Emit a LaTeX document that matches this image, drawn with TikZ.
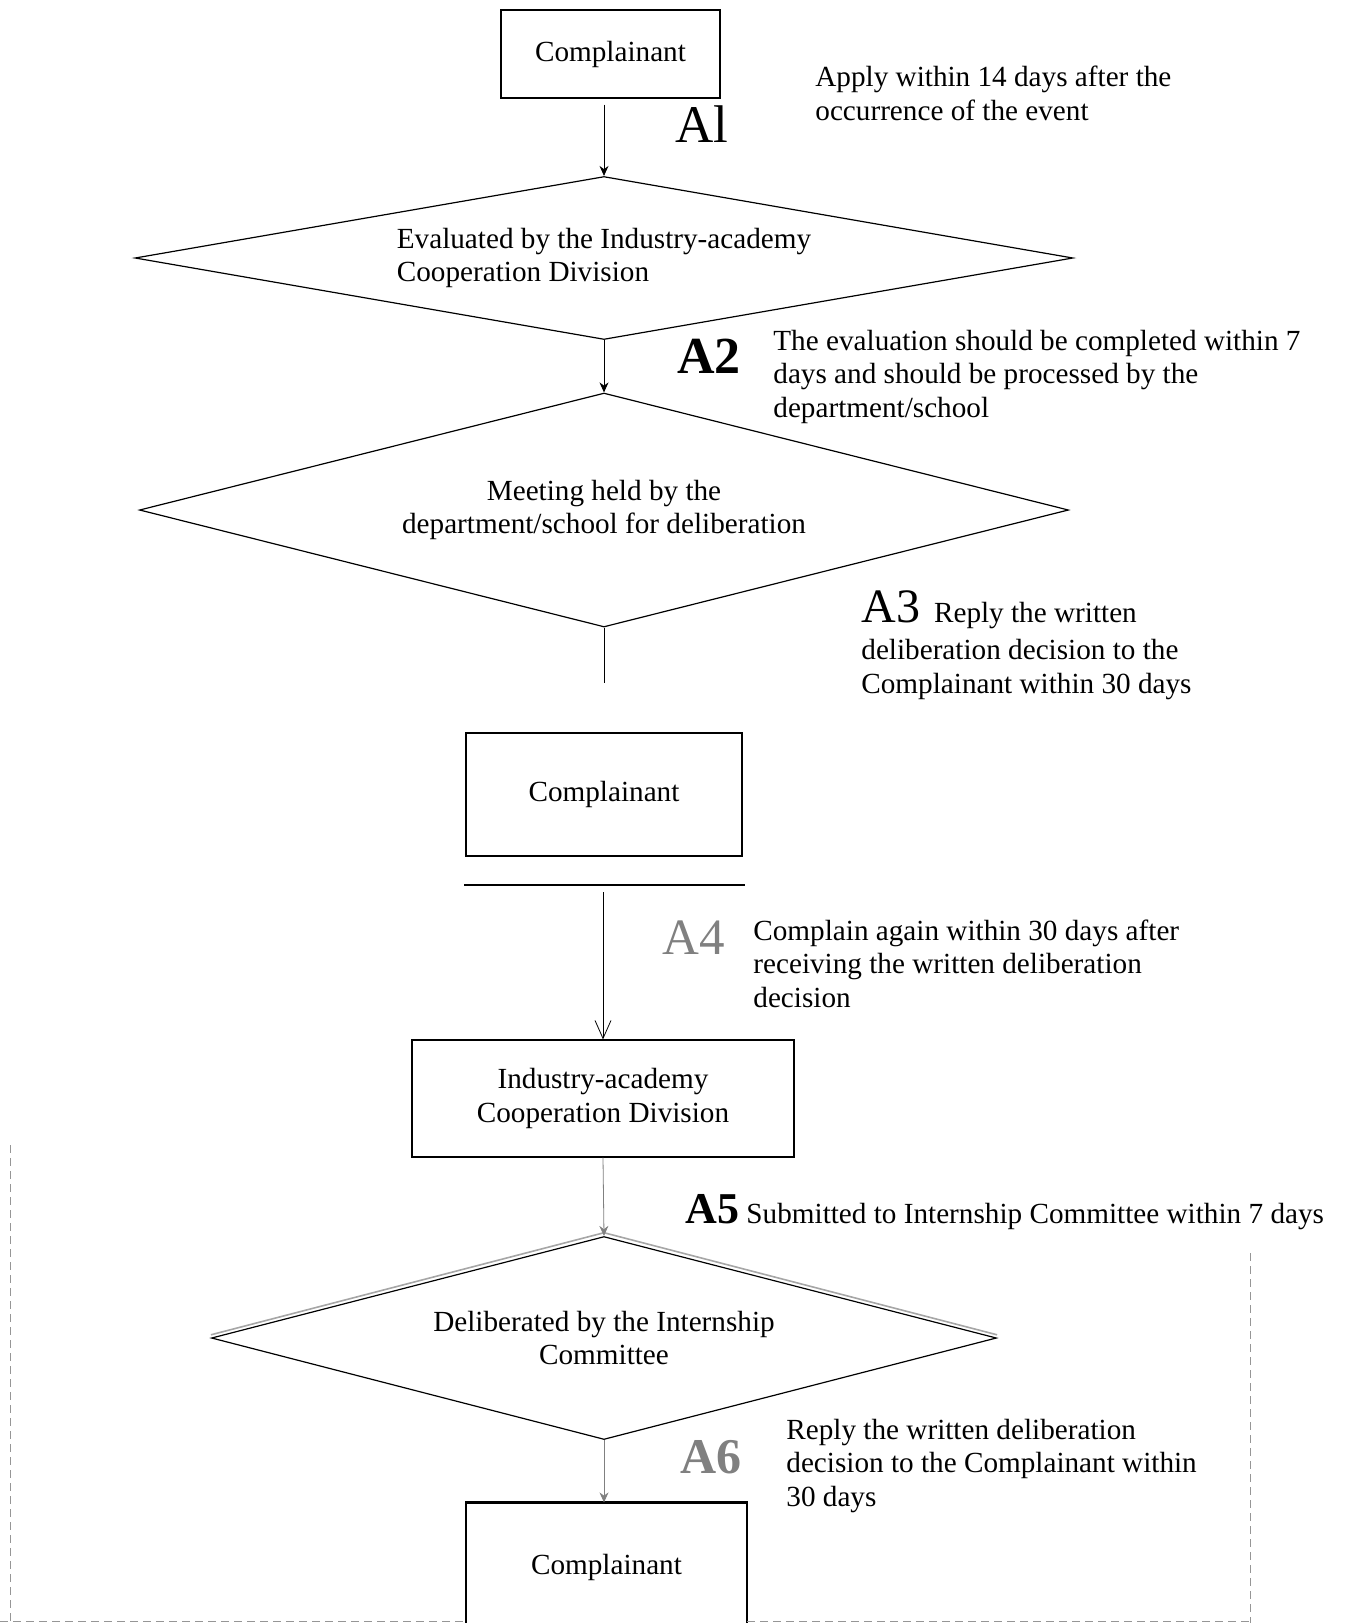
\documentclass[tikz,border=0pt]{standalone}
\usepackage{fontspec}
\setmainfont{Liberation Serif}
\usetikzlibrary{arrows.meta,positioning,shapes.geometric}
\definecolor{lblgray}{RGB}{128,128,128}
\definecolor{dashgray}{RGB}{150,150,150}
\tikzset{
  >={Stealth[length=5pt,width=4.5pt]},
  every node/.style={font=\fontsize{14.6}{16.6}\selectfont},
  box/.style ={draw, line width=0.6pt, inner sep=0pt},
  dec/.style ={draw, diamond, line width=0.6pt, inner sep=0pt, align=center},
  note/.style={anchor=base west, align=left, inner sep=0pt},
  big/.style ={anchor=base west, inner sep=0pt, font=\fontsize{#1}{#1}\selectfont},
  frame/.style={dashgray, line width=0.5pt, dash pattern=on 4pt off 2.5pt}
}
\begin{document}
\begin{tikzpicture}[x=0.5pt,y=-0.5pt]
\useasboundingbox (0,0) rectangle (1349,1623);
\clip (0,0) rectangle (1349,1623);

% main chain
\node[box, minimum width=109.5pt, minimum height=44pt] (c1) at (610.5,54) {Complainant};
\node[dec, aspect=5.75, minimum width=469pt, minimum height=81.5pt, align=left] (d1) at (604,258)
  {Evaluated by the Industry-academy\\Cooperation Division};
\node[dec, aspect=3.97, minimum width=464.5pt, minimum height=117pt] (d2) at (604,510)
  {Meeting held by the\\department/school for deliberation};
\coordinate (d2end) at (604,683);
\node[box, minimum width=138pt, minimum height=61.5pt] (c2) at (604,794.5) {Complainant};
\coordinate (hl1) at (464,885);
\coordinate (hl2) at (745,885);
\node[box, minimum width=191pt, minimum height=58.5pt, align=center] (iacd) at (603,1098.5)
  {Industry-academy\\Cooperation Division};
\node[dec, aspect=3.87, minimum width=392.5pt, minimum height=101.5pt] (d3) at (604,1338)
  {Deliberated by the Internship\\Committee};
\draw[lblgray!70, line width=0.8pt] ([yshift=1.6pt]d3.west) -- ([yshift=1.6pt]d3.north) -- ([yshift=1.6pt]d3.east);
\node[box, minimum width=140.5pt, minimum height=64pt] (c3) at (606.5,1567) {Complainant};
\draw[line width=1pt] (c3.north west) -- (c3.north east);

% connectors
\draw[->, shorten <=3pt] (c1.south -| d1.north) -- (d1.north);
\draw[->] (d1.south) -- (d2.north);
\draw (d2.south) -- (d2end);
\draw[line width=1pt] (hl1) -- (hl2);
\draw[-{Straight Barb[length=9pt,width=8pt]}, shorten <=3.5pt] (hl1 -| iacd.north) -- (iacd.north);
\draw[->, lblgray] (iacd.south) -- (d3.north);
\draw[->, lblgray] (d3.south) -- (d3.south |- c3.north);

% step labels (base = last line)
\node[big=26.5] (a1) at (675,142) {Al};
\node[note] (t1) at (815,120) {Apply within 14 days after the\\occurrence of the event};
\node[big=26] (a2) at (677,373) {\bfseries A2};
\node[note] (t2) at (773,417) {The evaluation should be completed within 7\\days and should be processed by the\\department/school};
\node[note] (t3) at (861,693) {{\fontsize{24}{24}\selectfont A3}\hspace{7pt}Reply the written\\[2pt]deliberation decision to the\\Complainant within 30 days};
\node[big=25.5, text=lblgray] (a4) at (662,954) {A4};
\node[note] (t4) at (753,1007) {Complain again within 30 days after\\receiving the written deliberation\\decision};
\node[note] (t5) at (685,1223) {{\fontsize{22}{22}\selectfont\bfseries A5} Submitted to Internship Committee within 7 days};
\node[big=25, text=lblgray] (a6) at (680,1473) {\bfseries A6};
\node[note] (t6) at (786,1506) {Reply the written deliberation\\decision to the Complainant within\\30 days};

% dashed frame
\draw[frame] (10,1145) -- (10,1623);
\draw[frame] (1250,1253) -- (1250,1623);
\draw[frame] (0,1621) -- (466,1621);
\draw[frame] (747,1621) -- (1250,1621);
\end{tikzpicture}
\end{document}
